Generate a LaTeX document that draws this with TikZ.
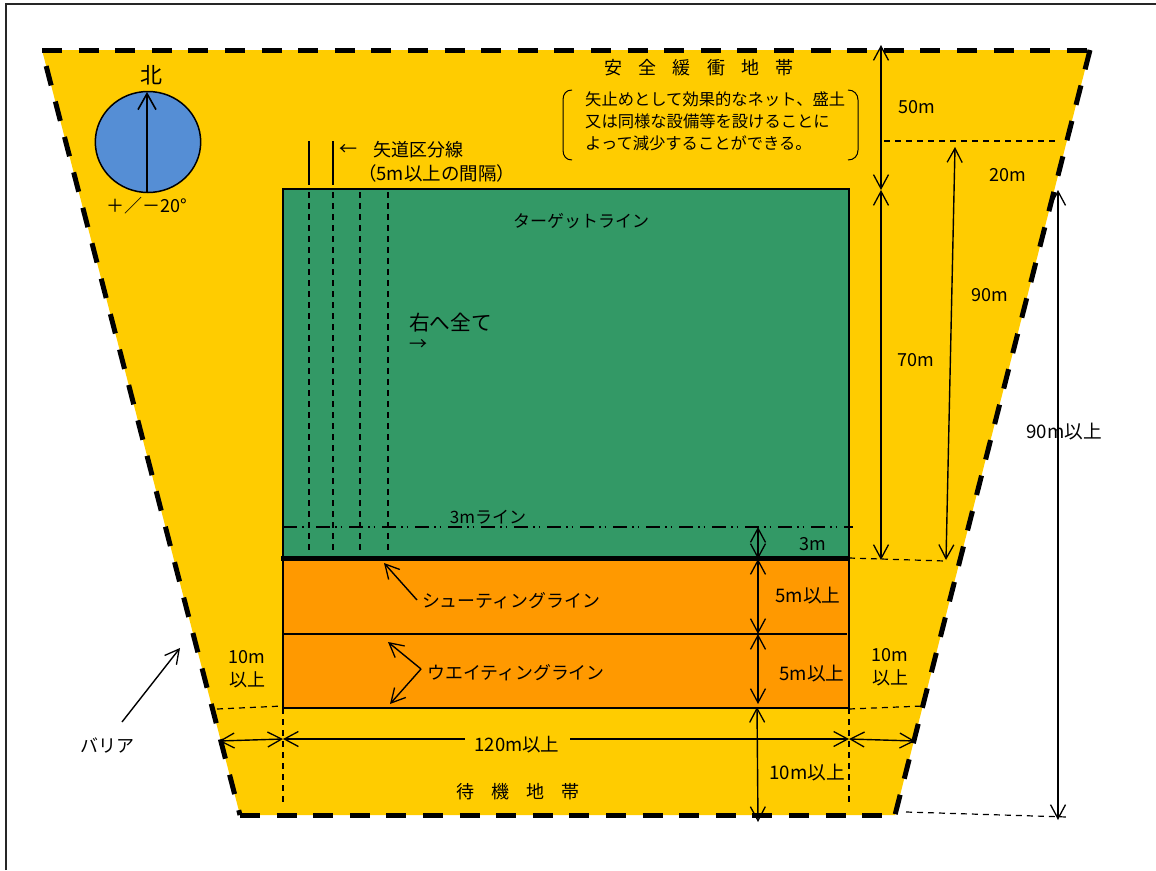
\documentclass[tikz,border=0pt]{standalone}
\usepackage{fontspec}
\setmainfont{Noto Sans CJK JP}
\usetikzlibrary{arrows.meta}
\definecolor{yel}{HTML}{FFCC00}
\definecolor{grn}{HTML}{339966}
\definecolor{org}{HTML}{FF9900}
\definecolor{blu}{HTML}{558ED5}
\tikzset{
  barb/.tip={Straight Barb[length=14pt,width=15pt,line width=1.3pt]},
  dim/.style={line width=1.4pt,barb-barb},
  onearrow/.style={line width=1.4pt,-barb},
  thin dash/.style={line width=1.2pt,dash pattern=on 6pt off 5pt},
  barrier/.style={line width=5pt,dash pattern=on 20pt off 16.6pt},
  solidline/.style={line width=1.4pt},
  lab/.style={font=\fontsize{18}{23}\selectfont,inner sep=0pt,align=center},
  notelab/.style={font=\fontsize{16.3}{22}\selectfont,inner sep=0pt,align=left,anchor=west},
}
\begin{document}
\begin{tikzpicture}[x=1pt,y=-1pt]
\useasboundingbox (0,0) rectangle (1156,870);
\fill[white] (0,0) rectangle (1156,870);
\coordinate (TL) at (42,50); \coordinate (TR) at (1090,50);
\coordinate (BR) at (895,815); \coordinate (BL) at (240,815);
% frame
\draw[line width=1.4pt,black!85] (6,870) -- (6,4) -- (1156,4);
% areas
\fill[yel] (TL) -- (TR) -- (BR) -- (BL) -- cycle;
\fill[grn] (283,189) rectangle (849,558);
\fill[org] (283,558) rectangle (849,708);
\draw[solidline] (283,558) -- (283,189) -- (849,189) -- (849,708) -- (283,708) -- cycle;
\draw[solidline] (283,634) -- (847,634);
\draw[line width=5pt] (281,558) -- (849,558);
% barrier
\draw[barrier] (TL) -- (TR);
\draw[barrier] (TR) -- (BR);
\draw[barrier] (BL) -- (BR);
\draw[barrier,dash phase=20pt] (TL) -- (BL);
% compass
\draw[fill=blu,line width=1.5pt] (148,142) ellipse [x radius=52.7,y radius=50.5];
\draw[line width=1.8pt,-{Straight Barb[length=16pt,width=18pt,line width=1.6pt]}] (147,192) -- (147,92);
\node (north) [lab,font=\fontsize{22}{24}\selectfont] at (151,75) {北};
\node (tol) [lab] at (147,206) {＋／－20°};
% lanes
\draw[solidline] (309,141) -- (309,185);
\draw[solidline] (333,141) -- (333,185);
\foreach \x in {309,333,360,388} \draw[thin dash] (\x,192) -- (\x,553);
\node (lanearrow) [lab,anchor=west] at (339,150) {←};
\node (lane) [lab,anchor=west] at (373,150) {矢道区分線};
\node (lanegap) [lab,font=\fontsize{18.5}{20}\selectfont,anchor=west] at (358,173) {（5m以上の間隔）};
% safety
\node (safety) [lab] at (699,68) {安\hspace{0.9em}全\hspace{0.9em}緩\hspace{0.9em}衝\hspace{0.9em}地\hspace{0.9em}帯};
\node (n1) [notelab] at (585,99) {矢止めとして効果的なネット、盛土};
\node (n2) [notelab] at (585,121) {又は同様な設備等を設けることに};
\node (n3) [notelab] at (585,143) {よって減少することができる。};
\draw[line width=1pt] (572,90) .. controls (566,90) and (563,94) .. (563,100) -- (563,150) .. controls (563,156) and (566,160) .. (572,160);
\draw[line width=1pt] (848,90) .. controls (854,90) and (858,94) .. (858,100) -- (858,150) .. controls (858,156) and (854,160) .. (848,160);
% inner text
\node (target) [lab,font=\fontsize{17}{20}\selectfont] at (581,221) {ターゲットライン};
\node (right) [lab,font=\fontsize{20.7}{22}\selectfont,anchor=west] at (409,323) {右へ全て};
\node (rarrow) [lab,anchor=west] at (409,345) {→};
\node (threeline) [lab,font=\fontsize{17}{20}\selectfont] at (488,517) {3mライン};
\draw[line width=1.2pt,dash pattern=on 14pt off 5pt on 1.5pt off 4pt on 1.5pt off 7pt] (283,527) -- (853,527);
% right dims
\draw[dim] (881,45) -- (881,190);
\draw[dim] (881,190) -- (881,560);
\draw[thin dash] (884,141) -- (1056,141);
\draw[dim] (955,147) -- (946,560);
\draw[dim] (1058,190) -- (1058,820);
\draw[thin dash] (849,558) -- (945,561);
\node (l50) [lab] at (917,107) {50m};
\node (l20) [lab] at (1008,175) {20m};
\node (l90) [lab] at (990,295) {90m};
\node (l70) [lab] at (916,360) {70m};
\node (l90up) [lab,font=\fontsize{18.7}{20}\selectfont] at (1064,432) {90m以上};
% centre dims
\draw[dim] (758,527) -- (758,559);
\draw[dim] (758,559) -- (758,634);
\draw[dim] (758,634) -- (758,704);
\draw[dim] (757,707) -- (758,822);
\node (l3) [lab] at (813,544) {3m};
\node (l5a) [lab,font=\fontsize{18.7}{20}\selectfont] at (808,596) {5m以上};
\node (l5b) [lab,font=\fontsize{18.7}{20}\selectfont] at (812,674) {5m以上};
\node (l10c) [lab,font=\fontsize{18.7}{20}\selectfont] at (807,773) {10m以上};
% waiting dims
\draw[thin dash] (217,709) -- (283,706);
\draw[thin dash] (849,709) -- (923,706);
\draw[thin dash] (283,708) -- (283,805);
\draw[thin dash] (849,708) -- (849,805);
\draw[thin dash] (906,812) -- (1067,817);
\draw[dim] (219,741) -- (283,739);
\draw[line width=1.4pt,barb-] (283,739) -- (465,739);
\draw[onearrow] (570,739) -- (849,739);
\draw[dim] (849,739) -- (915,741);
\node (l120) [lab,font=\fontsize{18.5}{20}\selectfont] at (517,745) {120m以上};
\node (l10l) [lab] at (247,669) {10m\\以上};
\node (l10r) [lab] at (890,667) {10m\\以上};
\node (wait) [lab] at (518,792) {待\hspace{0.94em}機\hspace{0.94em}地\hspace{0.94em}帯};
% leaders
\node (shoot) [lab,font=\fontsize{17.9}{20}\selectfont] at (511,601) {シューティングライン};
\node (waitl) [lab,font=\fontsize{17.9}{20}\selectfont] at (516,673) {ウエイティングライン};
\draw[onearrow] (417,600) -- (384,563);
\coordinate (wv) at (421,669);
\draw[onearrow] (wv) -- (388,642);
\draw[onearrow] (wv) -- (390,704);
\node (barr) [lab] at (107,745) {バリア};
\draw[onearrow] (122,722) -- (180,648);
\end{tikzpicture}
\end{document}
